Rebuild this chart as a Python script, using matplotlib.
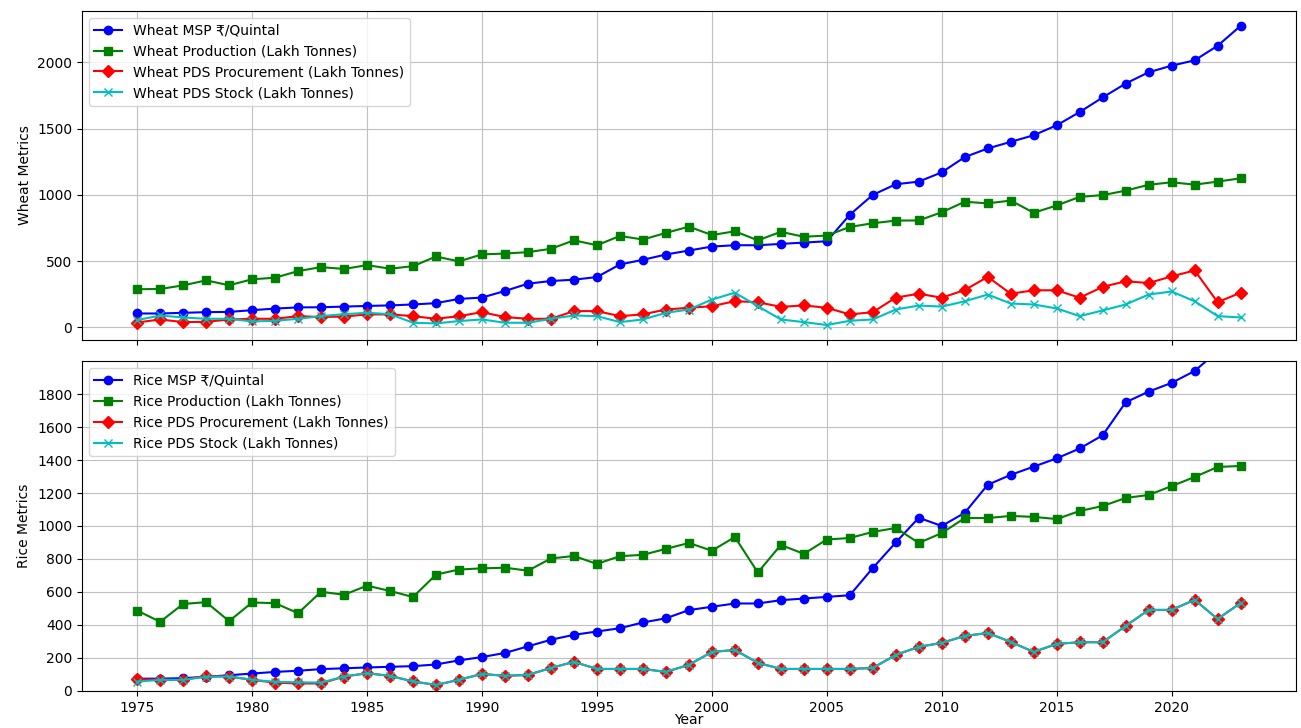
import matplotlib
matplotlib.use("Agg")
import matplotlib.pyplot as plt
import numpy as np

years = list(range(1975, 2024))

wheat_msp = [105, 105, 110, 115, 117, 130, 142, 151, 152, 157,
             162, 166, 173, 183, 215, 225, 275, 330, 350, 360,
             380, 475, 510, 550, 580, 610, 620, 620, 630, 640,
             650, 850, 1000, 1080, 1100, 1170, 1285, 1350, 1400, 1450,
             1525, 1625, 1735, 1840, 1925, 1975, 2015, 2125, 2275]
wheat_prod = [288, 290, 317, 355, 318, 363, 375, 425, 455, 441,
              470, 443, 462, 535, 498, 551, 557, 568, 593, 657,
              620, 690, 663, 713, 760, 697, 725, 657, 721, 684,
              693, 758, 786, 806, 807, 869, 948, 936, 957, 865,
              920, 985, 998, 1032, 1076, 1095, 1077, 1100, 1125]
wheat_proc = [37, 60, 40, 42, 60, 65, 65, 85, 78, 82,
              98, 98, 85, 65, 85, 115, 78, 65, 65, 123,
              123, 85, 98, 135, 148, 160, 198, 190, 155, 166,
              148, 98, 115, 225, 254, 224, 282, 381, 254, 280,
              280, 224, 306, 348, 335, 385, 430, 190, 262]
wheat_stock = [55, 90, 75, 65, 65, 45, 50, 65, 85, 100,
               110, 100, 35, 30, 48, 60, 35, 35, 65, 90,
               85, 40, 60, 110, 135, 210, 262, 160, 60, 40,
               18, 50, 60, 135, 165, 157, 197, 248, 180, 173,
               143, 85, 128, 173, 248, 271, 197, 85, 75]

rice_msp = [74, 74, 77, 85, 95, 105, 115, 122, 132, 137,
            142, 146, 150, 160, 185, 205, 230, 270, 310, 340,
            360, 380, 415, 440, 490, 510, 530, 530, 550, 560,
            570, 580, 745, 900, 1050, 1000, 1080, 1250, 1310, 1360,
            1410, 1470, 1550, 1750, 1815, 1868, 1940, 2060, 2183]
rice_prod = [487, 419, 527, 538, 423, 536, 532, 471, 601, 583,
             638, 606, 569, 705, 736, 743, 747, 729, 803, 818,
             770, 817, 825, 861, 897, 850, 933, 718, 885, 831,
             918, 927, 964, 988, 897, 957, 1048, 1048, 1061, 1055,
             1042, 1091, 1121, 1170, 1188, 1242, 1297, 1358, 1364]
rice_proc = [71, 67, 67, 91, 87, 67, 50, 45, 45, 87,
             107, 91, 57, 36, 67, 103, 91, 97, 139, 176,
             133, 133, 133, 115, 158, 236, 248, 170, 133, 133,
             133, 133, 139, 218, 267, 291, 333, 351, 297, 236,
             285, 295, 295, 394, 491, 491, 552, 436, 533]
rice_stock = [56, 67, 67, 85, 87, 67, 55, 52, 50, 87,
              107, 91, 57, 36, 67, 103, 91, 97, 139, 176,
              133, 133, 133, 115, 158, 236, 248, 170, 133, 133,
              133, 133, 139, 218, 267, 291, 333, 351, 297, 236,
              285, 295, 295, 394, 491, 491, 552, 436, 533]

fig = plt.figure(figsize=(13.01, 7.28), dpi=100)
ax1 = fig.add_axes([0.063, 0.533, 0.933, 0.452])
ax2 = fig.add_axes([0.063, 0.051, 0.933, 0.453], sharex=ax1)

ax1.plot(years, wheat_msp, '-o', color='b', label='Wheat MSP ₹/Quintal')
ax1.plot(years, wheat_prod, '-s', color='g', label='Wheat Production (Lakh Tonnes)')
ax1.plot(years, wheat_proc, '-D', color='r', label='Wheat PDS Procurement (Lakh Tonnes)')
ax1.plot(years, wheat_stock, '-x', color='c', label='Wheat PDS Stock (Lakh Tonnes)')
ax1.set_ylabel('Wheat Metrics')
ax1.legend(loc='upper left')
ax1.grid(True, color='#c0c0c0')
plt.setp(ax1.get_xticklabels(), visible=False)

ax2.plot(years, rice_msp, '-o', color='b', label='Rice MSP ₹/Quintal')
ax2.plot(years, rice_prod, '-s', color='g', label='Rice Production (Lakh Tonnes)')
ax2.plot(years, rice_proc, '-D', color='r', label='Rice PDS Procurement (Lakh Tonnes)')
ax2.plot(years, rice_stock, '-x', color='c', label='Rice PDS Stock (Lakh Tonnes)')
ax2.set_ylabel('Rice Metrics')
ax2.set_xlabel('Year', labelpad=-1)
ax2.set_ylim(0, 2000)
ax2.set_yticks(np.arange(0, 2000, 200))
ax2.legend(loc='upper left')
ax2.grid(True, color='#c0c0c0')
ax2.set_xticks(range(1975, 2025, 5))

fig.savefig('out.png', dpi=100)
